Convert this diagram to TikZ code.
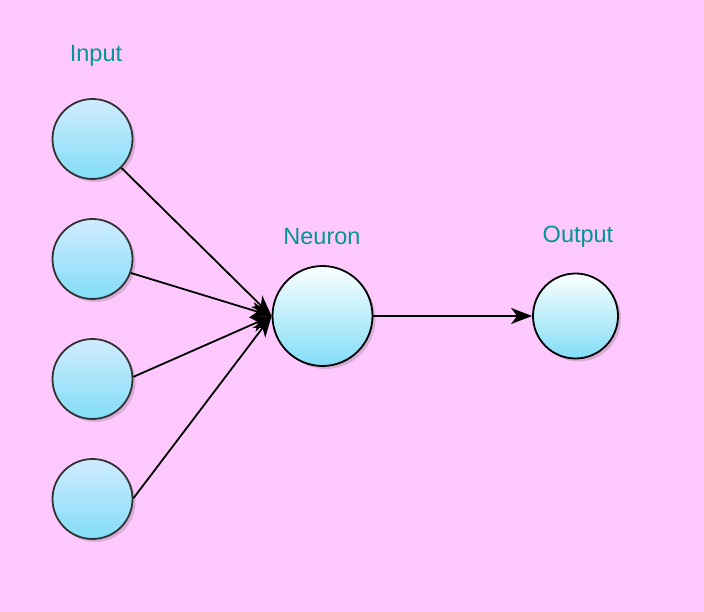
\documentclass[tikz,border=0pt]{standalone}
\usepackage{fontspec}
\setmainfont{Liberation Sans}
\usetikzlibrary{arrows.meta,shadows}
\definecolor{bgpink}{RGB}{255,200,255}
\definecolor{labteal}{RGB}{0,150,150}
\definecolor{ctop}{RGB}{250,255,255}
\definecolor{ctopin}{RGB}{208,236,255}
\definecolor{cbot}{RGB}{130,221,247}
\tikzset{
  unit/.style={circle,draw=black,line width=1.8pt,
    top color=ctop,bottom color=cbot,inner sep=0pt,
    drop shadow={opacity=0.22,shadow xshift=3pt,shadow yshift=-3pt,fill=black!70}},
  inunit/.style={unit,draw=black!80,top color=ctopin,minimum size=80pt},
  lab/.style={text=labteal,font=\fontsize{23.5}{28}\selectfont},
  conn/.style={line width=1.8pt,-{Stealth[length=21pt,width=16pt,inset=6pt]}}
}
\begin{document}
\begin{tikzpicture}[x=1pt,y=-1pt]
\fill[bgpink] (0,0) rectangle (704,612);
\useasboundingbox (0,0) rectangle (704,612);
\node[inunit] (in1) at (92.5,139) {};
\node[inunit] (in2) at (92.5,259) {};
\node[inunit] (in3) at (92.5,379) {};
\node[inunit] (in4) at (92.5,499) {};
\node[unit,minimum size=100pt] (neu) at (322.5,316) {};
\node[unit,minimum size=85pt] (out) at (575.5,316) {};
\node[lab] (linput) at (96,56) {Input};
\node[lab] (lneu) at (322,237) {Neuron};
\node[lab] (lout) at (578,237) {Output};
\draw[conn] (in1.-45) -- (neu.west);
\draw[conn] (in2.-20) -- (neu.west);
\draw[conn] (in3.3) -- (neu.west);
\draw[conn] (in4.1) -- (neu.west);
\draw[conn] (neu) -- (out);
\end{tikzpicture}
\end{document}
